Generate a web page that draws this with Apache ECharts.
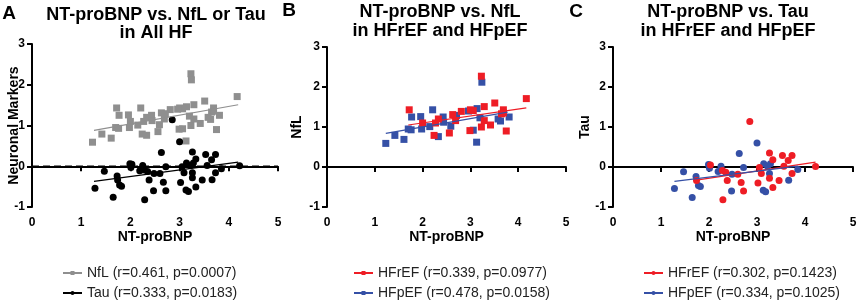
<!DOCTYPE html>
<html>
<head>
<meta charset="utf-8">
<script src="https://cdn.jsdelivr.net/npm/echarts@6/dist/echarts.min.js"></script>
<style>
  html, body { margin: 0; padding: 0; background: #fff; }
  #chart { width: 858px; height: 305px; }
</style>
</head>
<body>
<div id="chart"></div>
<script>
// NfL (panel B), split by HF type: [NT-proBNP, NfL]
const nflHFrEF = [
  [1.72, 1.43], [2.00, 1.10], [2.24, 0.79], [2.27, 1.10], [2.33, 1.20], [2.56, 0.85],
  [2.63, 1.31], [2.69, 1.16], [2.81, 1.39], [2.99, 0.91], [3.00, 1.43], [3.06, 1.41],
  [3.23, 2.27], [3.23, 1.00], [3.29, 1.51], [3.29, 1.16], [3.42, 1.05], [3.51, 1.60],
  [3.65, 1.33], [3.69, 1.43], [3.69, 1.35], [3.75, 0.90], [4.17, 1.71]
]
const nflHFpEF = [
  [1.23, 0.59], [1.42, 0.79], [1.61, 0.69], [1.77, 1.25], [1.70, 0.95], [1.76, 0.93],
  [1.96, 1.26], [1.98, 0.95], [2.15, 1.01], [2.21, 1.43], [2.33, 0.76], [2.43, 1.25],
  [2.44, 1.12], [2.59, 1.02], [2.71, 1.29], [2.96, 1.40], [3.06, 0.92], [3.14, 1.46],
  [3.13, 0.62], [3.24, 2.12], [3.20, 1.23], [3.58, 1.20], [3.63, 1.15], [3.81, 1.25]
]
// Tau (panel C), split by HF type: [NT-proBNP, Tau]
const tauHFrEF = [
  [1.74, -0.34], [2.03, 0.05], [2.28, -0.09], [2.29, -0.82], [2.35, -0.13], [2.38, -0.34],
  [2.60, -0.18], [2.67, -0.39], [2.72, -0.60], [2.85, 1.14], [3.02, -0.40], [3.05, -0.01],
  [3.09, -0.16], [3.26, 0.35], [3.26, -0.28], [3.33, 0.18], [3.33, -0.51], [3.46, -0.34],
  [3.53, 0.29], [3.56, 0.02], [3.65, 0.16], [3.73, 0.29], [3.73, -0.16], [4.22, 0.01]
]
const tauHFpEF = [
  [1.28, -0.54], [1.47, -0.12], [1.65, -0.76], [1.73, -0.24], [1.78, -0.46], [1.82, -0.49],
  [1.99, 0.06], [2.01, -0.03], [2.19, -0.11], [2.25, 0.02], [2.48, -0.18], [2.47, -0.60],
  [2.63, 0.34], [2.72, -0.01], [3.00, 0.60], [3.13, -0.58], [3.18, -0.62], [3.14, 0.08],
  [3.22, 0.02], [3.26, -0.16], [3.28, 0.08], [3.66, -0.33], [3.85, -0.06]
]
// panel A pools both groups
const nflAll = nflHFrEF.concat(nflHFpEF)
const tauAll = tauHFrEF.concat(tauHFpEF)

// regression line end points
const fitNflAll = [[1.26, 0.88], [4.19, 1.51]]
const fitTauAll = [[1.26, -0.37], [4.19, 0.10]]
const fitNflHFrEF = [[1.70, 1.05], [4.17, 1.48]]
const fitNflHFpEF = [[1.23, 0.84], [3.78, 1.37]]
const fitTauHFrEF = [[1.74, -0.33], [4.22, 0.12]]
const fitTauHFpEF = [[1.28, -0.36], [3.85, 0.02]]

const legendA = ['NfL (r=0.461, p=0.0007)', 'Tau (r=0.333, p=0.0183)']
const legendB = ['HFrEF (r=0.339, p=0.0977)', 'HFpEF (r=0.478, p=0.0158)']
const legendC = ['HFrEF (r=0.302, p=0.1423)', 'HFpEF (r=0.334, p=0.1025)']

const gray = '#8f8f8f'
const red = '#ee1d25'
const blue = '#3550a6'
const font = 'Arial, "Liberation Sans", sans-serif'

const chart = echarts.init(document.getElementById('chart'), null, { renderer: 'canvas' })

function xAxis(i) {
  return {
    gridIndex: i, type: 'value', min: 0, max: 5, interval: 1,
    name: 'NT-proBNP', nameLocation: 'middle', nameGap: 23, nameMoveOverlap: false,
    nameTextStyle: { color: '#000', fontWeight: 'bold', fontSize: 14, fontFamily: font },
    axisLine: { lineStyle: { color: '#000', width: 2 } },
    axisTick: { length: 5, lineStyle: { width: 2 } },
    axisLabel: { color: '#000', fontWeight: 'bold', fontSize: 12, fontFamily: font, margin: 10 },
    splitLine: { show: false }
  }
}
function yAxis(i, name, gap) {
  return {
    gridIndex: i, type: 'value', min: -1, max: 3, interval: 1,
    name: name, nameLocation: 'middle', nameGap: gap, nameMoveOverlap: false,
    nameTextStyle: { color: '#000', fontWeight: 'bold', fontSize: 14, fontFamily: font },
    axisLine: { lineStyle: { color: '#000', width: 2 } },
    axisTick: { length: 5, lineStyle: { width: 2 } },
    axisLabel: { color: '#000', fontWeight: 'bold', fontSize: 12, fontFamily: font, margin: 7 },
    splitLine: { show: false }
  }
}
function zeroLine(i) {
  return {
    type: 'line', xAxisIndex: i, yAxisIndex: i, data: [[0, 0], [5, 0]],
    symbol: 'none', silent: true, z: 1,
    lineStyle: { color: '#000', width: 1.7, type: [7, 4] }
  }
}
function scatter(i, data, color, symbol) {
  return {
    type: 'scatter', xAxisIndex: i, yAxisIndex: i, data: data,
    symbol: symbol, symbolSize: 7, itemStyle: { color: color, opacity: 1 }, z: 3
  }
}
function fit(i, name, data, color, symbol) {
  return {
    type: 'line', name: name, xAxisIndex: i, yAxisIndex: i, data: data,
    symbol: symbol, symbolSize: 5, showSymbol: false, z: 4,
    itemStyle: { color: color }, lineStyle: { color: color, width: 1.2 }
  }
}
function legend(left, data) {
  return {
    data: data, left: left, top: 266, orient: 'vertical', itemGap: 6, padding: 0,
    itemWidth: 19, itemHeight: 5,
    textStyle: { color: '#222', fontSize: 14, fontFamily: font }
  }
}
function label(x, y, text, size) {
  return {
    type: 'text', x: x, y: y,
    style: { text: text, fill: '#000', font: 'bold ' + size + 'px ' + font, textAlign: 'center', textVerticalAlign: 'middle' }
  }
}

chart.setOption({
  animation: false,
  backgroundColor: '#fff',
  grid: [
    { left: 32, top: 44, width: 246, height: 163, outerBoundsMode: 'none' },
    { left: 327, top: 47, width: 239, height: 160, outerBoundsMode: 'none' },
    { left: 613, top: 47, width: 240, height: 160, outerBoundsMode: 'none' }
  ],
  xAxis: [xAxis(0), xAxis(1), xAxis(2)],
  yAxis: [yAxis(0, 'Neuronal Markers', 11), yAxis(1, 'NfL', 23), yAxis(2, 'Tau', 21)],
  legend: [legend(62, legendA), legend(353, legendB), legend(643, legendC)],
  graphic: [
    label(9, 14, 'A', 19), label(289, 11, 'B', 19), label(576, 12, 'C', 19),
    label(156, 15, 'NT-proBNP vs. NfL or Tau', 18), label(156, 33, 'in All HF', 18),
    label(440, 12, 'NT-proBNP vs. NfL', 18), label(440, 31, 'in HFrEF and HFpEF', 18),
    label(728, 12, 'NT-proBNP vs. Tau', 18), label(728, 31, 'in HFrEF and HFpEF', 18)
  ],
  series: [
    zeroLine(0), zeroLine(1), zeroLine(2),
    scatter(0, nflAll, gray, 'rect'),
    scatter(0, tauAll, '#000', 'circle'),
    fit(0, legendA[0], fitNflAll, gray, 'rect'),
    fit(0, legendA[1], fitTauAll, '#000', 'circle'),
    scatter(1, nflHFpEF, blue, 'rect'),
    scatter(1, nflHFrEF, red, 'rect'),
    fit(1, legendB[0], fitNflHFrEF, red, 'rect'),
    fit(1, legendB[1], fitNflHFpEF, blue, 'rect'),
    scatter(2, tauHFpEF, blue, 'circle'),
    scatter(2, tauHFrEF, red, 'circle'),
    fit(2, legendC[0], fitTauHFrEF, red, 'circle'),
    fit(2, legendC[1], fitTauHFpEF, blue, 'circle')
  ]
})
</script>
</body>
</html>
